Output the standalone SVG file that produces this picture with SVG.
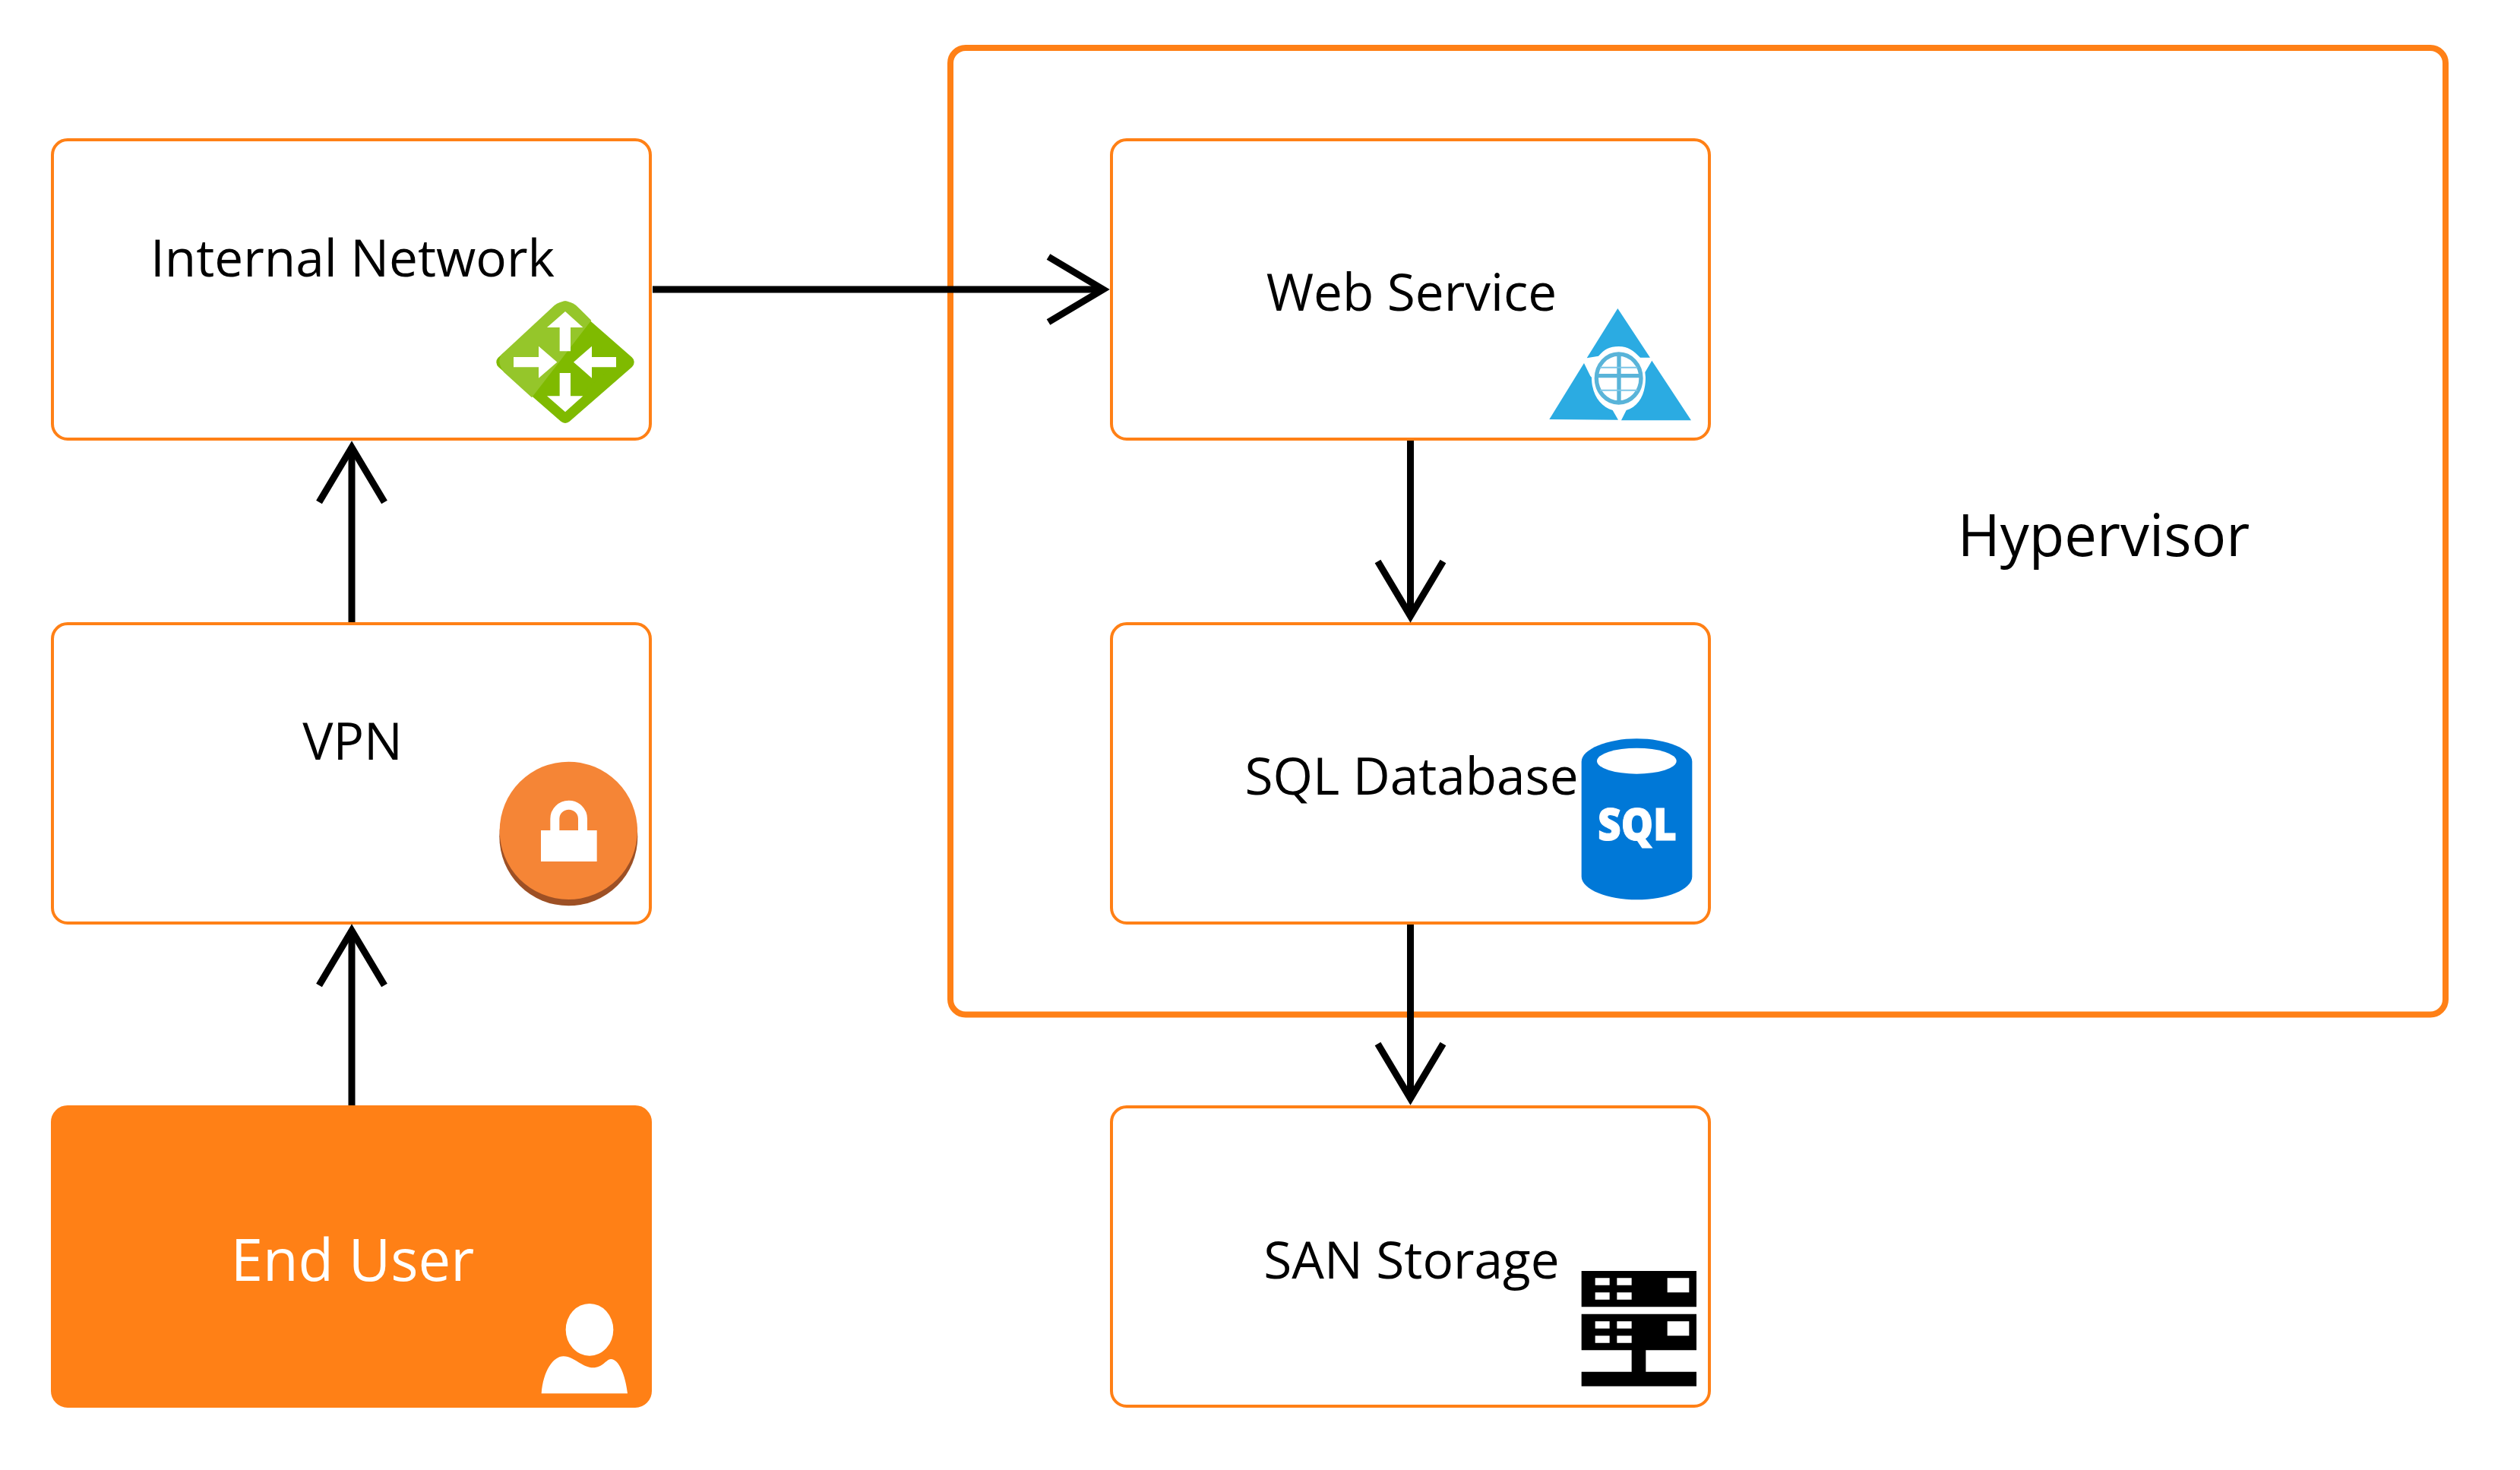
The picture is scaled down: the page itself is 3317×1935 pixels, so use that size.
<svg xmlns="http://www.w3.org/2000/svg" width="3317" height="1935" viewBox="0 0 3317 1935">
<style>
text{font-family:"Open Sans","Noto Sans","Liberation Sans",sans-serif;font-size:67.5px;text-anchor:middle;fill:#000}
.box{fill:#fff;stroke:#ff8016;stroke-width:4}
.conn{fill:none;stroke:#000;stroke-width:9}
.w{fill:#fff}
</style>
<defs>
<marker id="open" markerUnits="userSpaceOnUse" markerWidth="110" markerHeight="110" viewBox="-90 -55 110 110" refX="0" refY="0" orient="auto" overflow="visible">
<path d="M-72,-43 L0,0 L-72,43" fill="none" stroke="#000" stroke-width="9"/>
</marker>
</defs>
<rect width="3317" height="1935" fill="#fff"/>
<g id="hypervisor">
<rect x="1251" y="63" width="1968" height="1272.500" rx="20" fill="#fff" stroke="#ff8016" stroke-width="8"/>
<text x="2769" y="732" style="font-size:76px">Hypervisor</text>
</g>
<g id="internal-network">
<rect class="box" x="69" y="184" width="787" height="394" rx="20"/>
<text x="464" y="364">Internal Network</text>
<g transform="translate(600,360) scale(.33333)">
<path d="M432,135 L678,350 L432,565 L186,350 Z" fill="#7fba00" stroke="#7fba00" stroke-width="52" stroke-linejoin="round"/>
<path d="M535,185 L300,490 L190,390 Q160,350 180,320 L390,125 Q432,95 474,125 Z" fill="#95c62a"/>
<path class="w" d="M432,150 L502,213 L453,213 L453,307 L410,307 L410,213 L360,213 Z"/>
<path class="w" d="M432,547 L502,484 L453,484 L453,393 L410,393 L410,484 L360,484 Z"/>
<path class="w" d="M400,350 L327,287 L327,330 L228,330 L228,370 L327,370 L327,413 Z"/>
<path class="w" d="M465,350 L537,287 L537,330 L633,330 L633,370 L537,370 L537,413 Z"/>
</g>
</g>
<g id="vpn">
<rect class="box" x="69" y="821" width="787" height="394" rx="20"/>
<text x="464" y="1000">VPN</text>
<g transform="translate(640,991) scale(.33333)">
<circle cx="325" cy="331" r="273" fill="#9d5025"/>
<circle cx="325" cy="307" r="272" fill="#f58536"/>
<rect class="w" x="216" y="306" width="221" height="123"/>
<path d="M271,306 L271,260 A55,54 0 0 1 381,260 L381,306" fill="none" stroke="#fff" stroke-width="36"/>
</g>
</g>
<g id="end-user">
<rect x="69" y="1457" width="787" height="394" rx="20" fill="#ff8016" stroke="#ff8016" stroke-width="4"/>
<text x="464" y="1686" style="font-size:76px;fill:#fff">End User</text>
<g transform="translate(660,1691) scale(.33333)">
<ellipse class="w" cx="348" cy="178" rx="94" ry="103"/>
<path class="w" d="M158,430 C165,340 205,283 245,283 C285,283 320,328 362,328 C400,328 415,294 432,294 C465,294 490,360 498,430 Z"/>
</g>
</g>
<g id="web-service">
<rect class="box" x="1463" y="184" width="787" height="394" rx="20"/>
<text x="1858" y="409">Web Service</text>
<g transform="translate(2000,380) scale(.33333)">
<path d="M388,78 L516,272 L477,272 C450,245 430,228 392,228 C355,228 335,240 312,266 L266,274 Z" fill="#2babe2"/>
<path d="M255,294 L118,516 L390,518 L368,480 C320,465 285,420 285,350 L280,345 Z" fill="#2babe2"/>
<path d="M523,284 L678,520 L402,520 L422,480 C470,465 498,420 498,350 L496,330 Z" fill="#2babe2"/>
<ellipse cx="392" cy="354" rx="88" ry="96" fill="#fff" stroke="#59b4d9" stroke-width="16"/>
<path d="M393,258 V450 M304,344 H480" fill="none" stroke="#59b4d9" stroke-width="16"/>
<path d="M318,311 H466 M318,401 H466" fill="none" stroke="#7cc6e8" stroke-width="6"/>
</g>
</g>
<g id="sql-database">
<rect class="box" x="1463" y="821" width="787" height="394" rx="20"/>
<text x="1858" y="1046">SQL Database</text>
<g transform="translate(2080,961) scale(.33333)">
<path d="M5,125 C5,75 110,34 223,34 C340,34 442,75 442,125 L442,578 C442,630 340,670 223,670 C110,670 5,630 5,578 Z" fill="#0078d7"/>
<ellipse class="w" cx="223" cy="122" rx="157" ry="51"/>
</g>
<text x="2155" y="1106" textLength="104" lengthAdjust="spacingAndGlyphs" style="font-size:59px;font-weight:800;fill:#fff;stroke:#fff;stroke-width:1">SQL</text>
</g>
<g id="san-storage">
<rect class="box" x="1463" y="1457" width="787" height="394" rx="20"/>
<text x="1858" y="1683">SAN Storage</text>
<g transform="translate(2080,1661) scale(.33333)">
<path d="M5,36 H459 V178 H5 Z M5,206 H459 V349 H259 V434 H459 V491 H5 V434 H203 V349 H5 Z" fill="#000"/>
<path class="w" d="M59,64 h57 v28 h-57 Z M145,64 h58 v28 h-58 Z M59,121 h57 v28 h-57 Z M145,121 h58 v28 h-58 Z M344,64 h86 v57 h-86 Z M59,235 h57 v28 h-57 Z M145,235 h58 v28 h-58 Z M59,292 h57 v28 h-57 Z M145,292 h58 v28 h-58 Z M344,235 h86 v57 h-86 Z"/>
</g>
</g>
<g id="connectors" class="conn">
<path marker-end="url(#open)" d="M463,1455 V1225"/>
<path marker-end="url(#open)" d="M463,819 V589"/>
<path marker-end="url(#open)" d="M859,381 H1452"/>
<path marker-end="url(#open)" d="M1856.500,580 V811"/>
<path marker-end="url(#open)" d="M1856.500,1217 V1446"/>
</g>
</svg>
